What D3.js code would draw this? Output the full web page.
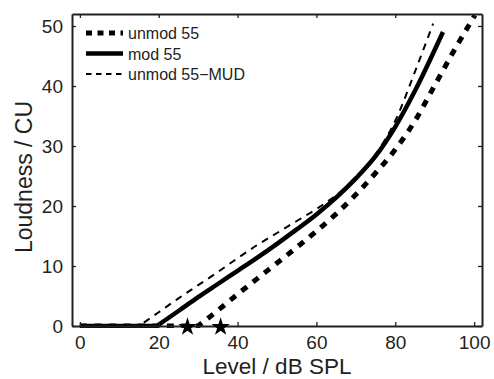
<!DOCTYPE html>
<html>
<head>
<meta charset="utf-8">
<script src="https://cdn.jsdelivr.net/npm/d3@7"></script>
<style>
    body { margin: 0; background: #fff; }
    svg { display: block; font-family: "Liberation Sans", Arial, sans-serif; }
</style>
</head>
<body>
<svg id="chart"></svg>
<script>
// level in dB SPL, loudness in CU
const unmod55 = [
    [0, 0], [30, 0], [35, 2.6], [40, 5.3], [45, 7.9], [50, 10.5], [55, 13.1], [60, 15.8],
    [65, 18.7], [70, 21.9], [75, 25.5], [80, 29.4], [85, 34.2], [90, 40.1], [95, 46], [100.2, 51.8]
];
const mod55 = [
    [0, 0], [19.5, 0], [25, 2.5], [30, 4.8], [35, 7], [40, 9.2], [45, 11.4], [50, 13.7], [55, 16.1],
    [60, 18.6], [65, 21.4], [70, 24.6], [75, 28.3], [80, 33.2], [85, 39.2], [92.1, 49]
];
const unmod55Mud = [
    [0, 0], [15, 0], [20, 2.3], [25, 4.6], [30, 6.8], [35, 9], [40, 11.3], [45, 13.5], [50, 15.5],
    [55, 17.5], [60, 19.5], [65, 21.8], [70, 24.6], [75, 28.6], [80, 34.2], [85, 42.4], [89.6, 50.4]
];
const thresholds = [27.3, 35.7];
const xTicks = [0, 20, 40, 60, 80, 100];
const yTicks = [0, 10, 20, 30, 40, 50];
const legendLabels = ['unmod 55', 'mod 55', 'unmod 55\u2212MUD'];

const width = 494;
const height = 379;
const margin = {top: 14, right: 12, bottom: 53, left: 72};
const plot = {
    width: width - margin.left - margin.right,
    height: height - margin.top - margin.bottom
};

const svg = d3.select('#chart')
    .attr('width', width)
    .attr('height', height);

const scales = {
    x: d3.scaleLinear().domain([-2, 102]).range([0, plot.width]),
    y: d3.scaleLinear().domain([0, 52]).range([plot.height, 0])
};

const series = [
    {data: unmod55, width: 5, dash: '7,7.5', legendDash: '6,5.5'},
    {data: mod55, width: 4.5, dash: null, legendDash: null},
    {data: unmod55Mud, width: 2, dash: '7,6', legendDash: '5.5,4.5'}
];

const g = svg.append('g')
    .attr('transform', `translate(${margin.left},${margin.top})`);

svg.append('defs')
    .append('clipPath')
    .attr('id', 'plotClip')
    .append('rect')
    .attr('width', plot.width)
    .attr('height', plot.height + 3)
    .attr('y', -1);

const flatLine = d3.line()
    .x(d => scales.x(d[0]))
    .y(d => scales.y(d[1]));
const riseLine = d3.line()
    .curve(d3.curveMonotoneX)
    .x(d => scales.x(d[0]))
    .y(d => scales.y(d[1]));

// flat part at 0 is linear, the rising part is smooth; one path so the dashes run on
function curvePath(data) {
    const rise = riseLine(data.slice(1));
    return flatLine(data.slice(0, 2)) + 'L' + rise.slice(1);
}

const elLines = g.append('g').attr('clip-path', 'url(#plotClip)');
elLines.selectAll('path.curve')
    .data(series)
    .join('path')
    .classed('curve', true)
    .attr('d', s => curvePath(s.data))
    .attr('fill', 'none')
    .attr('stroke', '#000')
    .attr('stroke-width', s => s.width)
    .attr('stroke-dasharray', s => s.dash);

// axes, matlab style: box on, ticks inside
const tickLen = 4;
const axes = {
    bottom: d3.axisBottom(scales.x).tickValues(xTicks).tickSizeInner(-tickLen).tickSizeOuter(0).tickPadding(10),
    top: d3.axisTop(scales.x).tickValues(xTicks).tickSizeInner(-tickLen).tickSizeOuter(0).tickFormat(''),
    left: d3.axisLeft(scales.y).tickValues(yTicks).tickSizeInner(-tickLen).tickSizeOuter(0).tickPadding(9),
    right: d3.axisRight(scales.y).tickValues(yTicks).tickSizeInner(-tickLen).tickSizeOuter(0).tickFormat('')
};

const elAxes = {
    bottom: g.append('g').attr('transform', `translate(0,${plot.height})`).call(axes.bottom),
    top: g.append('g').call(axes.top),
    left: g.append('g').call(axes.left),
    right: g.append('g').attr('transform', `translate(${plot.width},0)`).call(axes.right)
};

Object.values(elAxes).forEach(a => {
    a.select('.domain').attr('stroke', '#231f20').attr('stroke-width', 2);
    a.selectAll('.tick line').attr('stroke', '#231f20').attr('stroke-width', 1.3);
    a.selectAll('.tick text')
        .attr('fill', '#231f20')
        .style('font-size', '19px')
        .style('font-family', '"Liberation Sans", Arial, sans-serif');
});

// threshold stars
g.append('g')
    .selectAll('path.star')
    .data(thresholds)
    .join('path')
    .classed('star', true)
    .attr('d', d3.symbol().type(d3.symbolStar).size(105))
    .attr('transform', d => `translate(${scales.x(d)},${scales.y(0) + 1})`)
    .attr('fill', '#000');

// legend
const legend = g.append('g')
    .attr('transform', 'translate(14,19)');
const legendRows = legend.selectAll('g.row')
    .data(series)
    .join('g')
    .classed('row', true)
    .attr('transform', (s, i) => `translate(0,${i * 20.5})`);
legendRows.append('line')
    .attr('x1', 0)
    .attr('x2', 37)
    .attr('stroke', '#000')
    .attr('stroke-width', s => s.width)
    .attr('stroke-dasharray', s => s.legendDash);
legendRows.append('text')
    .attr('x', 42)
    .attr('y', 6)
    .style('font-size', '16px')
    .attr('fill', '#231f20')
    .text((s, i) => legendLabels[i]);

// axis labels
svg.append('text')
    .attr('x', margin.left + plot.width / 2)
    .attr('y', 374)
    .attr('text-anchor', 'middle')
    .style('font-size', '22.5px')
    .attr('fill', '#231f20')
    .text('Level / dB SPL');

svg.append('text')
    .attr('transform', `translate(32,${margin.top + 163}) rotate(-90)`)
    .attr('text-anchor', 'middle')
    .style('font-size', '23px')
    .attr('fill', '#231f20')
    .text('Loudness / CU');
</script>
</body>
</html>
